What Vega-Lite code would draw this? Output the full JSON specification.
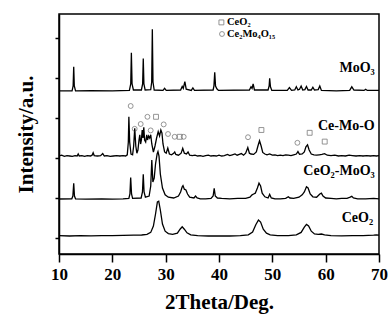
{
  "$schema": "https://vega.github.io/schema/vega-lite/v6.json",
  "width": 320,
  "height": 240,
  "autosize": {"type": "none"},
  "padding": {"left": 59, "top": 14, "right": 11, "bottom": 67},
  "background": "white",
  "config": {
    "font": "Liberation Serif",
    "view": {"stroke": "black", "strokeWidth": 1.5},
    "axis": {"grid": false, "domainColor": "black", "domainWidth": 1.5, "tickColor": "black", "tickWidth": 1.5, "labelColor": "black", "titleColor": "black", "labelFont": "Liberation Serif", "titleFont": "Liberation Serif", "labelFontWeight": "bold", "titleFontWeight": "bold"}
  },
  "datasets": {
    "traces": [
      {"s":"MoO3","x":10,"y":4.68},{"s":"MoO3","x":12.45,"y":4.68},{"s":"MoO3","x":12.65,"y":4.8},{"s":"MoO3","x":12.76,"y":5.28},{"s":"MoO3","x":12.87,"y":4.8},{"s":"MoO3","x":13.1,"y":4.68},
      {"s":"MoO3","x":16,"y":4.685},{"s":"MoO3","x":20,"y":4.68},{"s":"MoO3","x":23.2,"y":4.69},{"s":"MoO3","x":23.45,"y":4.85},{"s":"MoO3","x":23.57,"y":5.63},{"s":"MoO3","x":23.7,"y":4.85},{"s":"MoO3","x":23.95,"y":4.7},
      {"s":"MoO3","x":25.45,"y":4.7},{"s":"MoO3","x":25.68,"y":4.85},{"s":"MoO3","x":25.8,"y":5.49},{"s":"MoO3","x":25.92,"y":4.85},{"s":"MoO3","x":26.15,"y":4.7},
      {"s":"MoO3","x":27.2,"y":4.71},{"s":"MoO3","x":27.38,"y":4.9},{"s":"MoO3","x":27.5,"y":6.22},{"s":"MoO3","x":27.62,"y":4.9},{"s":"MoO3","x":27.85,"y":4.7},
      {"s":"MoO3","x":29.5,"y":4.69},{"s":"MoO3","x":29.8,"y":4.74},{"s":"MoO3","x":30.1,"y":4.69},{"s":"MoO3","x":32.8,"y":4.7},{"s":"MoO3","x":33.1,"y":4.79},{"s":"MoO3","x":33.3,"y":4.74},{"s":"MoO3","x":33.6,"y":4.91},{"s":"MoO3","x":33.85,"y":4.72},
      {"s":"MoO3","x":34.8,"y":4.69},{"s":"MoO3","x":35.1,"y":4.75},{"s":"MoO3","x":35.4,"y":4.69},{"s":"MoO3","x":38.9,"y":4.7},{"s":"MoO3","x":39.05,"y":4.8},{"s":"MoO3","x":39.2,"y":5.14},{"s":"MoO3","x":39.35,"y":4.8},{"s":"MoO3","x":39.6,"y":4.73},{"s":"MoO3","x":39.9,"y":4.69},
      {"s":"MoO3","x":45.7,"y":4.7},{"s":"MoO3","x":46.0,"y":4.78},{"s":"MoO3","x":46.2,"y":4.74},{"s":"MoO3","x":46.4,"y":4.85},{"s":"MoO3","x":46.65,"y":4.7},
      {"s":"MoO3","x":49.2,"y":4.7},{"s":"MoO3","x":49.4,"y":4.8},{"s":"MoO3","x":49.5,"y":4.99},{"s":"MoO3","x":49.65,"y":4.78},{"s":"MoO3","x":49.9,"y":4.69},
      {"s":"MoO3","x":52.8,"y":4.69},{"s":"MoO3","x":53.2,"y":4.76},{"s":"MoO3","x":53.6,"y":4.69},{"s":"MoO3","x":54.2,"y":4.7},{"s":"MoO3","x":54.5,"y":4.78},{"s":"MoO3","x":54.8,"y":4.7},{"s":"MoO3","x":55.1,"y":4.72},{"s":"MoO3","x":55.4,"y":4.8},{"s":"MoO3","x":55.7,"y":4.7},{"s":"MoO3","x":56.1,"y":4.71},{"s":"MoO3","x":56.4,"y":4.79},{"s":"MoO3","x":56.7,"y":4.7},{"s":"MoO3","x":57.3,"y":4.7},{"s":"MoO3","x":57.6,"y":4.77},{"s":"MoO3","x":57.9,"y":4.7},{"s":"MoO3","x":58.6,"y":4.71},{"s":"MoO3","x":58.9,"y":4.8},{"s":"MoO3","x":59.2,"y":4.69},
      {"s":"MoO3","x":62,"y":4.68},{"s":"MoO3","x":64.5,"y":4.69},{"s":"MoO3","x":64.9,"y":4.78},{"s":"MoO3","x":65.3,"y":4.7},{"s":"MoO3","x":67.2,"y":4.69},{"s":"MoO3","x":67.5,"y":4.72},{"s":"MoO3","x":67.8,"y":4.69},{"s":"MoO3","x":70,"y":4.69},

      {"s":"CMO","x":10,"y":3.05},{"s":"CMO","x":10.5,"y":3.07},{"s":"CMO","x":11,"y":3.04},{"s":"CMO","x":11.5,"y":3.06},{"s":"CMO","x":12,"y":3.05},{"s":"CMO","x":12.5,"y":3.04},{"s":"CMO","x":13,"y":3.06},{"s":"CMO","x":13.4,"y":3.05},{"s":"CMO","x":13.6,"y":3.1},{"s":"CMO","x":13.8,"y":3.05},{"s":"CMO","x":14.3,"y":3.06},{"s":"CMO","x":14.8,"y":3.04},{"s":"CMO","x":15.3,"y":3.06},{"s":"CMO","x":15.9,"y":3.05},{"s":"CMO","x":16.2,"y":3.07},{"s":"CMO","x":16.4,"y":3.13},{"s":"CMO","x":16.6,"y":3.06},{"s":"CMO","x":17.2,"y":3.05},{"s":"CMO","x":17.8,"y":3.06},{"s":"CMO","x":18.2,"y":3.11},{"s":"CMO","x":18.5,"y":3.05},{"s":"CMO","x":19,"y":3.06},{"s":"CMO","x":19.6,"y":3.04},{"s":"CMO","x":20.2,"y":3.05},{"s":"CMO","x":20.8,"y":3.06},{"s":"CMO","x":21.4,"y":3.05},{"s":"CMO","x":22,"y":3.06},{"s":"CMO","x":22.5,"y":3.05},{"s":"CMO","x":22.8,"y":3.08},
      {"s":"CMO","x":23.0,"y":3.4},{"s":"CMO","x":23.1,"y":4.03},{"s":"CMO","x":23.25,"y":3.4},{"s":"CMO","x":23.5,"y":3.1},{"s":"CMO","x":23.8,"y":3.08},{"s":"CMO","x":24.0,"y":3.3},{"s":"CMO","x":24.2,"y":3.74},{"s":"CMO","x":24.4,"y":3.3},{"s":"CMO","x":24.6,"y":3.12},{"s":"CMO","x":24.8,"y":3.2},{"s":"CMO","x":25.0,"y":3.45},{"s":"CMO","x":25.15,"y":3.58},{"s":"CMO","x":25.3,"y":3.35},{"s":"CMO","x":25.45,"y":3.45},{"s":"CMO","x":25.6,"y":3.7},{"s":"CMO","x":25.75,"y":3.5},{"s":"CMO","x":25.9,"y":3.77},{"s":"CMO","x":26.05,"y":3.45},{"s":"CMO","x":26.25,"y":3.4},{"s":"CMO","x":26.45,"y":3.58},{"s":"CMO","x":26.6,"y":3.45},{"s":"CMO","x":26.8,"y":3.55},{"s":"CMO","x":27.0,"y":3.5},{"s":"CMO","x":27.2,"y":3.58},{"s":"CMO","x":27.4,"y":3.35},{"s":"CMO","x":27.7,"y":3.15},{"s":"CMO","x":28.0,"y":3.3},{"s":"CMO","x":28.3,"y":3.5},{"s":"CMO","x":28.6,"y":3.66},{"s":"CMO","x":28.85,"y":3.55},{"s":"CMO","x":29.1,"y":3.7},{"s":"CMO","x":29.3,"y":3.63},{"s":"CMO","x":29.5,"y":3.35},{"s":"CMO","x":29.8,"y":3.15},{"s":"CMO","x":30.1,"y":3.12},{"s":"CMO","x":30.4,"y":3.25},{"s":"CMO","x":30.7,"y":3.1},{"s":"CMO","x":31.1,"y":3.08},{"s":"CMO","x":31.5,"y":3.12},{"s":"CMO","x":31.7,"y":3.15},{"s":"CMO","x":31.9,"y":3.09},{"s":"CMO","x":32.4,"y":3.07},{"s":"CMO","x":32.9,"y":3.12},{"s":"CMO","x":33.2,"y":3.24},{"s":"CMO","x":33.5,"y":3.12},{"s":"CMO","x":33.9,"y":3.1},{"s":"CMO","x":34.2,"y":3.15},{"s":"CMO","x":34.5,"y":3.07},{"s":"CMO","x":35,"y":3.06},{"s":"CMO","x":35.5,"y":3.07},{"s":"CMO","x":36,"y":3.05},{"s":"CMO","x":36.5,"y":3.06},{"s":"CMO","x":37,"y":3.04},{"s":"CMO","x":37.5,"y":3.06},{"s":"CMO","x":38,"y":3.07},{"s":"CMO","x":38.5,"y":3.05},{"s":"CMO","x":39,"y":3.06},{"s":"CMO","x":39.5,"y":3.05},{"s":"CMO","x":40,"y":3.07},{"s":"CMO","x":40.5,"y":3.05},{"s":"CMO","x":41,"y":3.06},{"s":"CMO","x":41.6,"y":3.09},{"s":"CMO","x":42,"y":3.06},{"s":"CMO","x":42.5,"y":3.08},{"s":"CMO","x":43,"y":3.1},{"s":"CMO","x":43.4,"y":3.07},{"s":"CMO","x":43.8,"y":3.09},{"s":"CMO","x":44.2,"y":3.11},{"s":"CMO","x":44.6,"y":3.07},{"s":"CMO","x":45.0,"y":3.12},{"s":"CMO","x":45.4,"y":3.26},{"s":"CMO","x":45.7,"y":3.12},{"s":"CMO","x":46.0,"y":3.1},{"s":"CMO","x":46.5,"y":3.09},{"s":"CMO","x":47.0,"y":3.15},{"s":"CMO","x":47.3,"y":3.3},{"s":"CMO","x":47.6,"y":3.43},{"s":"CMO","x":47.9,"y":3.3},{"s":"CMO","x":48.2,"y":3.14},{"s":"CMO","x":48.6,"y":3.1},{"s":"CMO","x":49,"y":3.08},{"s":"CMO","x":49.5,"y":3.1},{"s":"CMO","x":50,"y":3.07},{"s":"CMO","x":50.5,"y":3.08},{"s":"CMO","x":51,"y":3.06},{"s":"CMO","x":51.5,"y":3.07},{"s":"CMO","x":52,"y":3.06},{"s":"CMO","x":52.5,"y":3.08},{"s":"CMO","x":53,"y":3.07},{"s":"CMO","x":53.5,"y":3.06},{"s":"CMO","x":54,"y":3.08},{"s":"CMO","x":54.5,"y":3.1},{"s":"CMO","x":54.8,"y":3.16},{"s":"CMO","x":55.1,"y":3.09},{"s":"CMO","x":55.6,"y":3.1},{"s":"CMO","x":56.0,"y":3.15},{"s":"CMO","x":56.3,"y":3.28},{"s":"CMO","x":56.6,"y":3.33},{"s":"CMO","x":56.9,"y":3.2},{"s":"CMO","x":57.3,"y":3.1},{"s":"CMO","x":57.8,"y":3.08},{"s":"CMO","x":58.3,"y":3.07},{"s":"CMO","x":58.8,"y":3.08},{"s":"CMO","x":59.3,"y":3.09},{"s":"CMO","x":59.8,"y":3.11},{"s":"CMO","x":60.3,"y":3.07},{"s":"CMO","x":61,"y":3.06},{"s":"CMO","x":61.7,"y":3.07},{"s":"CMO","x":62.4,"y":3.05},{"s":"CMO","x":63,"y":3.06},{"s":"CMO","x":63.7,"y":3.05},{"s":"CMO","x":64.4,"y":3.07},{"s":"CMO","x":65,"y":3.06},{"s":"CMO","x":65.7,"y":3.05},{"s":"CMO","x":66.4,"y":3.06},{"s":"CMO","x":67,"y":3.05},{"s":"CMO","x":67.7,"y":3.06},{"s":"CMO","x":68.4,"y":3.05},{"s":"CMO","x":69,"y":3.06},{"s":"CMO","x":69.5,"y":3.05},{"s":"CMO","x":70,"y":3.06},

      {"s":"CM","x":10,"y":1.975},{"s":"CM","x":12.4,"y":1.98},{"s":"CM","x":12.6,"y":2.05},{"s":"CM","x":12.76,"y":2.37},{"s":"CM","x":12.9,"y":2.05},{"s":"CM","x":13.1,"y":1.98},{"s":"CM","x":15,"y":1.97},{"s":"CM","x":18,"y":1.98},{"s":"CM","x":20,"y":1.97},{"s":"CM","x":22,"y":1.98},{"s":"CM","x":23.1,"y":1.99},{"s":"CM","x":23.3,"y":2.1},{"s":"CM","x":23.44,"y":2.51},{"s":"CM","x":23.6,"y":2.1},{"s":"CM","x":23.8,"y":1.99},{"s":"CM","x":25.4,"y":2.0},{"s":"CM","x":25.65,"y":2.15},{"s":"CM","x":25.8,"y":2.59},{"s":"CM","x":25.95,"y":2.15},{"s":"CM","x":26.2,"y":2.02},{"s":"CM","x":26.9,"y":2.05},{"s":"CM","x":27.2,"y":2.3},{"s":"CM","x":27.4,"y":2.95},{"s":"CM","x":27.6,"y":2.4},{"s":"CM","x":27.85,"y":2.5},{"s":"CM","x":28.1,"y":2.85},{"s":"CM","x":28.4,"y":3.1},{"s":"CM","x":28.56,"y":3.16},{"s":"CM","x":28.75,"y":3.05},{"s":"CM","x":29.0,"y":2.6},{"s":"CM","x":29.4,"y":2.25},{"s":"CM","x":29.9,"y":2.08},{"s":"CM","x":30.5,"y":2.02},{"s":"CM","x":31.5,"y":2.0},{"s":"CM","x":32.4,"y":2.05},{"s":"CM","x":32.8,"y":2.15},{"s":"CM","x":33.1,"y":2.28},{"s":"CM","x":33.25,"y":2.31},{"s":"CM","x":33.5,"y":2.22},{"s":"CM","x":33.8,"y":2.2},{"s":"CM","x":34.1,"y":2.1},{"s":"CM","x":34.5,"y":2.02},{"s":"CM","x":35.3,"y":2.0},{"s":"CM","x":35.6,"y":2.05},{"s":"CM","x":35.9,"y":2.0},{"s":"CM","x":36.5,"y":1.98},{"s":"CM","x":37.5,"y":1.98},{"s":"CM","x":38.5,"y":1.99},{"s":"CM","x":38.9,"y":2.05},{"s":"CM","x":39.1,"y":2.24},{"s":"CM","x":39.3,"y":2.05},{"s":"CM","x":39.7,"y":2.0},{"s":"CM","x":40.5,"y":1.99},{"s":"CM","x":42,"y":1.98},{"s":"CM","x":43.5,"y":1.99},{"s":"CM","x":45,"y":1.99},{"s":"CM","x":45.8,"y":2.02},{"s":"CM","x":46.2,"y":2.08},{"s":"CM","x":46.5,"y":2.1},{"s":"CM","x":46.8,"y":2.12},{"s":"CM","x":47.2,"y":2.25},{"s":"CM","x":47.5,"y":2.37},{"s":"CM","x":47.8,"y":2.3},{"s":"CM","x":48.1,"y":2.12},{"s":"CM","x":48.6,"y":2.03},{"s":"CM","x":49.2,"y":2.0},{"s":"CM","x":49.5,"y":2.09},{"s":"CM","x":49.8,"y":2.0},{"s":"CM","x":50.5,"y":1.98},{"s":"CM","x":51.5,"y":1.98},{"s":"CM","x":52.5,"y":1.99},{"s":"CM","x":53.0,"y":2.03},{"s":"CM","x":53.3,"y":2.0},{"s":"CM","x":54,"y":1.99},{"s":"CM","x":55,"y":2.02},{"s":"CM","x":55.6,"y":2.08},{"s":"CM","x":56.0,"y":2.15},{"s":"CM","x":56.4,"y":2.28},{"s":"CM","x":56.7,"y":2.25},{"s":"CM","x":57.1,"y":2.1},{"s":"CM","x":57.6,"y":2.03},{"s":"CM","x":58.3,"y":2.02},{"s":"CM","x":58.9,"y":2.1},{"s":"CM","x":59.2,"y":2.12},{"s":"CM","x":59.5,"y":2.05},{"s":"CM","x":60,"y":2.0},{"s":"CM","x":61,"y":1.99},{"s":"CM","x":62,"y":1.98},{"s":"CM","x":63,"y":1.99},{"s":"CM","x":64,"y":1.99},{"s":"CM","x":64.6,"y":2.02},{"s":"CM","x":64.9,"y":2.04},{"s":"CM","x":65.2,"y":2.0},{"s":"CM","x":66,"y":1.98},{"s":"CM","x":67.5,"y":1.98},{"s":"CM","x":69,"y":1.99},{"s":"CM","x":70,"y":1.98},

      {"s":"C","x":10,"y":1.06},{"s":"C","x":12,"y":1.05},{"s":"C","x":14,"y":1.06},{"s":"C","x":16,"y":1.055},{"s":"C","x":18,"y":1.06},{"s":"C","x":20,"y":1.06},{"s":"C","x":22,"y":1.065},{"s":"C","x":24,"y":1.07},{"s":"C","x":25.5,"y":1.075},{"s":"C","x":26.5,"y":1.09},{"s":"C","x":27.2,"y":1.14},{"s":"C","x":27.7,"y":1.3},{"s":"C","x":28.1,"y":1.6},{"s":"C","x":28.45,"y":1.9},{"s":"C","x":28.7,"y":1.92},{"s":"C","x":29.0,"y":1.7},{"s":"C","x":29.4,"y":1.35},{"s":"C","x":29.9,"y":1.17},{"s":"C","x":30.5,"y":1.11},{"s":"C","x":31.3,"y":1.09},{"s":"C","x":32.2,"y":1.12},{"s":"C","x":32.7,"y":1.22},{"s":"C","x":33.1,"y":1.28},{"s":"C","x":33.5,"y":1.22},{"s":"C","x":34,"y":1.13},{"s":"C","x":34.7,"y":1.08},{"s":"C","x":36,"y":1.06},{"s":"C","x":38,"y":1.05},{"s":"C","x":40,"y":1.055},{"s":"C","x":42,"y":1.05},{"s":"C","x":44,"y":1.06},{"s":"C","x":45.5,"y":1.08},{"s":"C","x":46.3,"y":1.15},{"s":"C","x":46.9,"y":1.33},{"s":"C","x":47.4,"y":1.45},{"s":"C","x":47.8,"y":1.4},{"s":"C","x":48.3,"y":1.22},{"s":"C","x":48.9,"y":1.12},{"s":"C","x":49.6,"y":1.08},{"s":"C","x":51,"y":1.06},{"s":"C","x":53,"y":1.06},{"s":"C","x":54.5,"y":1.08},{"s":"C","x":55.4,"y":1.14},{"s":"C","x":56.0,"y":1.27},{"s":"C","x":56.4,"y":1.34},{"s":"C","x":56.8,"y":1.3},{"s":"C","x":57.3,"y":1.17},{"s":"C","x":57.9,"y":1.1},{"s":"C","x":58.6,"y":1.09},{"s":"C","x":59.2,"y":1.1},{"s":"C","x":59.8,"y":1.08},{"s":"C","x":61,"y":1.06},{"s":"C","x":63,"y":1.055},{"s":"C","x":65,"y":1.06},{"s":"C","x":67,"y":1.06},{"s":"C","x":69,"y":1.07},{"s":"C","x":69.5,"y":1.075},{"s":"C","x":70,"y":1.07}
    ],
    "marks": [
      {"x":23.44,"y":4.3,"p":"circle"},{"x":24.19,"y":3.73,"p":"circle"},{"x":25.32,"y":3.85,"p":"circle"},{"x":26.58,"y":4.03,"p":"circle"},{"x":28.19,"y":4.03,"p":"square"},{"x":27.19,"y":3.69,"p":"circle"},{"x":29.63,"y":3.84,"p":"circle"},{"x":30.44,"y":3.6,"p":"circle"},{"x":31.69,"y":3.53,"p":"circle"},{"x":32.63,"y":3.53,"p":"square"},{"x":33.38,"y":3.53,"p":"circle"},{"x":45.44,"y":3.52,"p":"circle"},{"x":47.95,"y":3.7,"p":"square"},{"x":54.7,"y":3.38,"p":"circle"},{"x":57.0,"y":3.63,"p":"square"},{"x":59.82,"y":3.41,"p":"square"},
      {"x":40.45,"y":6.39,"p":"square"},{"x":40.56,"y":6.1,"p":"circle"}
    ],
    "names": [
      {"x":69.2,"y":5.25,"t":"MoO₃"},{"x":69.2,"y":3.8,"t":"Ce-Mo-O"},{"x":69.2,"y":2.67,"t":"CeO₂-MoO₃"},{"x":68.9,"y":1.5,"t":"CeO₂"}
    ],
    "legend": [
      {"x":41.5,"y":6.39,"t":"CeO₂"},{"x":41.5,"y":6.1,"t":"Ce₂Mo₄O₁₅"}
    ]
  },
  "layer": [
    {
      "data": {"name": "traces"},
      "mark": {"type": "line", "color": "black", "strokeWidth": 1.3, "clip": true},
      "encoding": {
        "x": {"field": "x", "type": "quantitative", "scale": {"domain": [10, 70], "nice": false, "zero": false},
          "axis": {"values": [10,15,20,25,30,35,40,45,50,55,60,65,70], "labelExpr": "datum.value % 10 === 0 ? datum.label : ''",
            "tickSize": {"condition": {"test": "datum.value % 10 === 0", "value": 8}, "value": 4},
            "labelFontSize": 17, "labelPadding": 4, "labelFlush": false, "labelOverlap": false,
            "title": "2Theta/Deg.", "titleFontSize": 21, "titlePadding": 9}},
        "y": {"field": "y", "type": "quantitative", "scale": {"domain": [0.6, 6.6], "nice": false, "zero": false},
          "axis": {"values": [1,2,3,4,5,6], "labels": false, "tickSize": 4, "title": "Intensity/a.u.", "titleFontSize": 21, "titlePadding": 18}},
        "detail": {"field": "s"}
      }
    },
    {
      "data": {"name": "marks"},
      "mark": {"type": "point", "filled": false, "color": "#444", "strokeWidth": 0.8, "size": 24},
      "encoding": {
        "x": {"field": "x", "type": "quantitative"},
        "y": {"field": "y", "type": "quantitative"},
        "shape": {"field": "p", "type": "nominal", "scale": {"domain": ["circle", "square"], "range": ["circle", "square"]}, "legend": null}
      }
    },
    {
      "data": {"name": "names"},
      "mark": {"type": "text", "align": "right", "baseline": "middle", "font": "Liberation Serif", "fontWeight": "bold", "fontSize": 14, "color": "black"},
      "encoding": {
        "x": {"field": "x", "type": "quantitative"},
        "y": {"field": "y", "type": "quantitative"},
        "text": {"field": "t"}
      }
    },
    {
      "data": {"name": "legend"},
      "mark": {"type": "text", "align": "left", "baseline": "middle", "font": "Liberation Serif", "fontWeight": "bold", "fontSize": 10.5, "color": "black"},
      "encoding": {
        "x": {"field": "x", "type": "quantitative"},
        "y": {"field": "y", "type": "quantitative"},
        "text": {"field": "t"}
      }
    }
  ]
}
